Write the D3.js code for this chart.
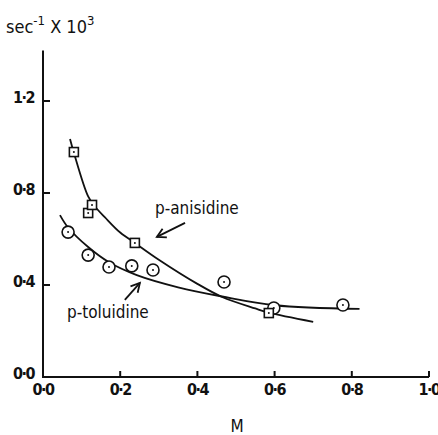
<!DOCTYPE html>
<html>
<head>
<meta charset="utf-8">
<script src="https://cdn.jsdelivr.net/npm/d3@7"></script>
<style>
    body { margin: 0; background: #fff; }
    text { font-family: "DejaVu Sans Condensed", "Liberation Sans Narrow", sans-serif; fill: #111; }
</style>
</head>
<body>
<div id="chart"></div>
<script>
// measured points
const anisX = [0.080, 0.117, 0.127, 0.238, 0.585];
const anisY = [0.978, 0.713, 0.748, 0.583, 0.278];
const toluX = [0.065, 0.117, 0.171, 0.230, 0.285, 0.469, 0.598, 0.777];
const toluY = [0.630, 0.530, 0.478, 0.483, 0.465, 0.413, 0.300, 0.313];

// hand drawn fitted curves
const anisCurveX = [0.070, 0.080, 0.117, 0.135, 0.160, 0.200, 0.238, 0.300, 0.400, 0.464, 0.550, 0.585, 0.700];
const anisCurveY = [1.035, 0.975, 0.785, 0.740, 0.695, 0.628, 0.583, 0.510, 0.405, 0.348, 0.298, 0.280, 0.240];
const toluCurveX = [0.044, 0.065, 0.117, 0.170, 0.243, 0.350, 0.464, 0.600, 0.820];
const toluCurveY = [0.704, 0.650, 0.565, 0.500, 0.443, 0.390, 0.350, 0.312, 0.296];

const xTicks = [0, 0.2, 0.4, 0.6, 0.8, 1.0];
const yTicks = [0, 0.4, 0.8, 1.2];
const tickFmt = d => d.toFixed(1).replace(".", "·");

var width = 438, height = 435;
var svg = d3.select("#chart").append("svg")
    .attr("width", width)
    .attr("height", height);

var x = d3.scaleLinear().domain([0, 1]).range([43, 429]);
var y = d3.scaleLinear().domain([0, 1.2]).range([377, 101]);

// axes
svg.append("line")
    .attr("x1", x(0)).attr("x2", x(0))
    .attr("y1", y(0) + 1).attr("y2", y(1.42))
    .style("stroke", "#111").style("stroke-width", 2);
svg.append("line")
    .attr("x1", x(0) - 1).attr("x2", x(1))
    .attr("y1", y(0)).attr("y2", y(0))
    .style("stroke", "#111").style("stroke-width", 2);

svg.selectAll(".xtick").data(xTicks.slice(1)).enter().append("line")
    .attr("x1", d => x(d)).attr("x2", d => x(d))
    .attr("y1", y(0)).attr("y2", y(0) - 6)
    .style("stroke", "#111").style("stroke-width", 2);
svg.selectAll(".ytick").data(yTicks.slice(1)).enter().append("line")
    .attr("x1", x(0)).attr("x2", x(0) + 7)
    .attr("y1", d => y(d)).attr("y2", d => y(d))
    .style("stroke", "#111").style("stroke-width", 2);

svg.selectAll(".xlab").data(xTicks).enter().append("text")
    .attr("x", d => x(d))
    .attr("y", 395)
    .attr("text-anchor", "middle")
    .style("font-size", "16px")
    .style("font-weight", "bold")
    .style("letter-spacing", "-1.5px")
    .text(tickFmt);
svg.selectAll(".ylab").data(yTicks).enter().append("text")
    .attr("x", 34)
    .attr("y", d => y(d) + 2)
    .attr("text-anchor", "end")
    .style("font-size", "16px")
    .style("font-weight", "bold")
    .style("letter-spacing", "-1.5px")
    .text(tickFmt);

// axis titles
var yt = svg.append("text")
    .attr("x", 6).attr("y", 33)
    .style("font-size", "18px");
yt.append("tspan").text("sec");
yt.append("tspan").attr("dy", -8).style("font-size", "13px").text("-1");
yt.append("tspan").attr("dy", 8).text(" X 10");
yt.append("tspan").attr("dy", -8).style("font-size", "13px").text("3");

svg.append("text")
    .attr("x", 237).attr("y", 432)
    .attr("text-anchor", "middle")
    .style("font-size", "17px")
    .text("M");

// curves
var line = d3.line()
    .x(d => x(d[0]))
    .y(d => y(d[1]))
    .curve(d3.curveCatmullRom);

svg.append("path")
    .datum(d3.zip(anisCurveX, anisCurveY))
    .attr("d", line)
    .style("fill", "none").style("stroke", "#111").style("stroke-width", 1.8);
svg.append("path")
    .datum(d3.zip(toluCurveX, toluCurveY))
    .attr("d", line)
    .style("fill", "none").style("stroke", "#111").style("stroke-width", 1.8);

// markers
var circ = svg.selectAll(".circ").data(d3.zip(toluX, toluY)).enter().append("g")
    .attr("transform", d => "translate(" + x(d[0]) + "," + y(d[1]) + ")");
circ.append("circle").attr("r", 6)
    .style("fill", "#fff").style("stroke", "#111").style("stroke-width", 1.6);
circ.append("circle").attr("r", 1).style("fill", "#111");

var sq = svg.selectAll(".sq").data(d3.zip(anisX, anisY)).enter().append("g")
    .attr("transform", d => "translate(" + x(d[0]) + "," + y(d[1]) + ")");
sq.append("rect").attr("x", -4.5).attr("y", -4.5).attr("width", 9).attr("height", 9)
    .style("fill", "#fff").style("stroke", "#111").style("stroke-width", 1.6);
sq.append("circle").attr("r", 1).style("fill", "#111");

// labels and arrows
svg.append("text")
    .attr("x", x(0.29)).attr("y", y(0.709))
    .style("font-size", "17px")
    .text("p-anisidine");
svg.append("text")
    .attr("x", x(0.062)).attr("y", y(0.257))
    .style("font-size", "17px")
    .text("p-toluidine");

function arrow(x0, y0, x1, y1) {
    var px0 = x(x0), py0 = y(y0), px1 = x(x1), py1 = y(y1);
    var a = Math.atan2(py1 - py0, px1 - px0);
    var len = 10, spread = 0.5;
    svg.append("line")
        .attr("x1", px0).attr("y1", py0).attr("x2", px1).attr("y2", py1)
        .style("stroke", "#111").style("stroke-width", 1.8);
    svg.append("path")
        .attr("d", "M" + (px1 - len * Math.cos(a - spread)) + "," + (py1 - len * Math.sin(a - spread)) +
            "L" + px1 + "," + py1 +
            "L" + (px1 - len * Math.cos(a + spread)) + "," + (py1 - len * Math.sin(a + spread)))
        .style("fill", "none").style("stroke", "#111").style("stroke-width", 1.8);
}
arrow(0.368, 0.670, 0.295, 0.609);
arrow(0.212, 0.335, 0.251, 0.409);
</script>
</body>
</html>
